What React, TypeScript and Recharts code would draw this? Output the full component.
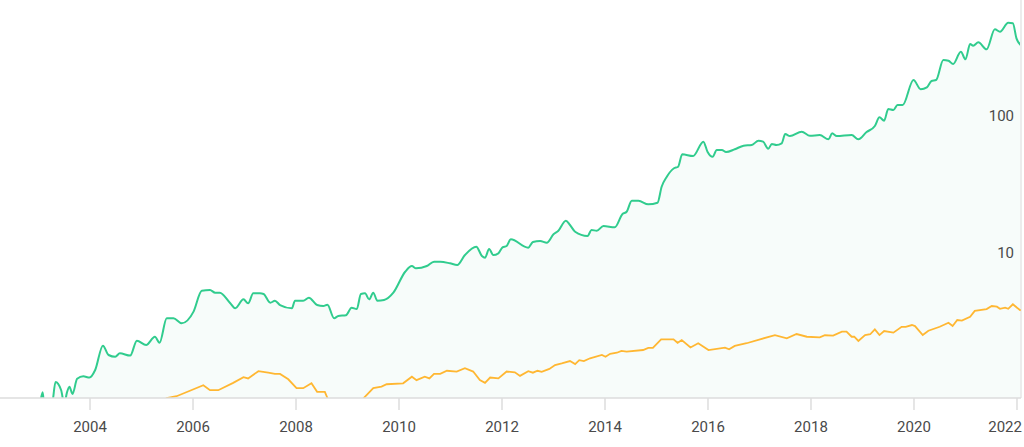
import { ComposedChart, Area, Line, XAxis, YAxis, ReferenceLine } from 'recharts'

// green series (upper) — decimal year / value
const greenYears = [
  2003.03, 2003.08, 2003.11, 2003.26, 2003.33, 2003.44, 2003.5, 2003.55, 2003.6, 2003.66,
  2003.75, 2003.87, 2003.99, 2004.1, 2004.25, 2004.36, 2004.49, 2004.58, 2004.78, 2004.91,
  2005.09, 2005.26, 2005.35, 2005.49, 2005.62, 2005.78, 2006.01, 2006.17, 2006.33, 2006.43,
  2006.52, 2006.72, 2006.82, 2006.98, 2007.07, 2007.17, 2007.3, 2007.37, 2007.5, 2007.59,
  2007.69, 2007.92, 2007.98, 2008.14, 2008.25, 2008.41, 2008.53, 2008.61, 2008.74, 2008.82,
  2008.97, 2009.08, 2009.18, 2009.26, 2009.34, 2009.42, 2009.5, 2009.58, 2009.71, 2009.89,
  2010.12, 2010.25, 2010.33, 2010.54, 2010.68, 2010.8, 2010.99, 2011.13, 2011.28, 2011.5,
  2011.61, 2011.67, 2011.75, 2011.83, 2011.93, 2012.01, 2012.09, 2012.17, 2012.51, 2012.6,
  2012.74, 2012.87, 2013.0, 2013.09, 2013.24, 2013.32, 2013.42, 2013.66, 2013.74, 2013.84,
  2013.97, 2014.19, 2014.34, 2014.42, 2014.52, 2014.65, 2014.84, 2015.02, 2015.1, 2015.2,
  2015.34, 2015.42, 2015.5, 2015.71, 2015.91, 2015.99, 2016.09, 2016.17, 2016.27, 2016.35,
  2016.52, 2016.69, 2016.85, 2016.98, 2017.07, 2017.17, 2017.24, 2017.33, 2017.43, 2017.5,
  2017.59, 2017.82, 2017.98, 2018.17, 2018.34, 2018.41, 2018.5, 2018.79, 2018.92, 2019.08,
  2019.24, 2019.33, 2019.42, 2019.5, 2019.6, 2019.68, 2019.78, 2019.99, 2020.13, 2020.25,
  2020.34, 2020.43, 2020.57, 2020.67, 2020.76, 2020.91, 2021.0, 2021.09, 2021.15, 2021.25,
  2021.41, 2021.57, 2021.67, 2021.83, 2021.92, 2021.99, 2022.07,
]
const greenValues = [
  0.9, 1.1, 0.9, 0.9, 1.31, 1.14, 0.9, 1.09, 1.21, 1.07,
  1.38, 1.44, 1.41, 1.6, 2.41, 2.06, 2.0, 2.12, 2.04, 2.62,
  2.44, 2.8, 2.53, 3.82, 3.82, 3.51, 4.27, 6.07, 6.14, 5.87,
  5.87, 4.94, 4.52, 5.25, 4.91, 5.81, 5.81, 5.74, 4.96, 5.13,
  4.77, 4.52, 5.13, 5.13, 5.4, 4.77, 4.69, 4.8, 3.82, 3.97,
  4.02, 4.56, 4.46, 5.74, 5.81, 5.25, 5.87, 5.13, 5.19, 5.87,
  8.35, 9.19, 8.85, 9.19, 9.88, 9.88, 9.62, 9.35, 11.06, 12.72,
  10.88, 10.57, 12.24, 11.06, 11.38, 12.59, 12.87, 14.4, 12.51, 13.76,
  14.0, 13.6, 15.66, 16.56, 19.69, 18.32, 16.36, 15.22, 16.84, 16.64,
  18.01, 17.62, 22.03, 22.9, 27.55, 27.55, 25.94, 26.64, 34.86, 41.24,
  47.51, 48.8, 60.1, 58.4, 74.3, 62.8, 57.7, 64.6, 64.6, 62.5,
  65.4, 69.4, 70.3, 75.5, 74.3, 66.0, 71.4, 70.3, 72.3, 84.5,
  81.7, 87.9, 82.1, 83.1, 77.3, 85.5, 81.7, 83.1, 77.3, 87.4,
  96.7, 111.9, 105.7, 128.7, 126.6, 137.6, 137.6, 209.5, 179.2, 185.3,
  206.0, 209.5, 293.3, 289.7, 274.2, 337.1, 296.8, 383.7, 372.9, 394.8,
  351.0, 491.2, 471.8, 548.8, 543.3, 422.3, 377.3,
]

// orange series (lower)
const orangeYears = [
  2005.42, 2005.49, 2005.68, 2005.94, 2006.2, 2006.33, 2006.49, 2006.78, 2006.98, 2007.07,
  2007.27, 2007.46, 2007.59, 2007.69, 2007.85, 2008.01, 2008.14, 2008.3, 2008.41, 2008.56,
  2008.66, 2009.2, 2009.37, 2009.5, 2009.66, 2009.76, 2010.08, 2010.25, 2010.34, 2010.5,
  2010.59, 2010.68, 2010.8, 2010.93, 2011.12, 2011.28, 2011.44, 2011.57, 2011.67, 2011.77,
  2011.93, 2012.09, 2012.25, 2012.35, 2012.51, 2012.6, 2012.69, 2012.77, 2012.92, 2013.03,
  2013.16, 2013.32, 2013.42, 2013.5, 2013.59, 2013.71, 2013.94, 2014.01, 2014.1, 2014.23,
  2014.32, 2014.42, 2014.74, 2014.84, 2014.93, 2015.09, 2015.33, 2015.41, 2015.49, 2015.66,
  2015.81, 2016.01, 2016.33, 2016.41, 2016.52, 2016.75, 2017.01, 2017.3, 2017.53, 2017.72,
  2017.92, 2018.17, 2018.27, 2018.43, 2018.6, 2018.69, 2018.79, 2018.84, 2018.92, 2019.05,
  2019.15, 2019.24, 2019.33, 2019.42, 2019.6, 2019.76, 2019.84, 2019.96, 2020.02, 2020.17,
  2020.28, 2020.5, 2020.67, 2020.75, 2020.84, 2020.93, 2021.09, 2021.18, 2021.41, 2021.51,
  2021.61, 2021.67, 2021.77, 2021.83, 2021.92, 2022.07,
]
const orangeValues = [
  0.95, 1.0, 1.03, 1.13, 1.24, 1.14, 1.14, 1.29, 1.42, 1.39,
  1.57, 1.53, 1.5, 1.5, 1.37, 1.18, 1.18, 1.28, 1.11, 1.11,
  0.9, 0.9, 1.05, 1.18, 1.21, 1.26, 1.28, 1.43, 1.35, 1.43,
  1.39, 1.5, 1.5, 1.58, 1.56, 1.65, 1.56, 1.35, 1.29, 1.41,
  1.39, 1.56, 1.54, 1.45, 1.57, 1.53, 1.58, 1.55, 1.63, 1.74,
  1.79, 1.86, 1.77, 1.89, 1.86, 1.95, 2.06, 2.0, 2.1, 2.14,
  2.21, 2.18, 2.24, 2.32, 2.32, 2.68, 2.68, 2.53, 2.65, 2.34,
  2.51, 2.24, 2.33, 2.27, 2.4, 2.51, 2.68, 2.88, 2.73, 2.93,
  2.8, 2.77, 2.87, 2.85, 3.05, 3.05, 2.8, 2.8, 2.61, 2.88,
  2.92, 3.17, 2.88, 3.08, 3.0, 3.31, 3.31, 3.41, 3.35, 2.88,
  3.1, 3.31, 3.54, 3.35, 3.71, 3.67, 3.92, 4.32, 4.46, 4.69,
  4.64, 4.48, 4.56, 4.48, 4.83, 4.34,
]

const xTicks = [2004, 2006, 2008, 2010, 2012, 2014, 2016, 2018, 2020, 2022]
const yTicks = [10, 100]

const X_MIN = 2002.252
const X_MAX = 2022.078

type Row = { year: number; green?: number; orange?: number }

function buildRows(): Row[] {
  const map = new Map<number, Row>()
  greenYears.forEach((y, i) => {
    const r = map.get(y) ?? { year: y }
    r.green = greenValues[i]
    map.set(y, r)
  })
  orangeYears.forEach((y, i) => {
    const r = map.get(y) ?? { year: y }
    r.orange = orangeValues[i]
    map.set(y, r)
  })
  return Array.from(map.values()).sort((a, b) => a.year - b.year)
}

const rows = buildRows()

const labelStyle = { fontFamily: 'Roboto, sans-serif', fontSize: 15, fill: '#4a4a4a' }

function XTick(props: any) {
  const { x, y, payload } = props
  // last label is pulled inside the chart edge
  const last = payload.value === 2022
  return (
    <text x={last ? x + 5 : x} y={y} dy={22} textAnchor={last ? 'end' : 'middle'} style={labelStyle}>
      {payload.value}
    </text>
  )
}

function YTick(props: any) {
  const { y, payload } = props
  // labels sit just above their value, right-aligned inside the plot
  return (
    <text x={1014} y={y - 8} dy="0.355em" textAnchor="end" style={labelStyle}>
      {payload.value}
    </text>
  )
}

export default function App() {
  return (
    <div style={{ position: 'absolute', left: 0, top: 0, width: 1024, height: 447, background: '#fff' }}>
      <ComposedChart width={1024} height={447} data={rows} margin={{ top: 0, right: 3, bottom: 0, left: 0 }}>
        <XAxis
          dataKey="year"
          type="number"
          domain={[X_MIN, X_MAX]}
          allowDataOverflow
          ticks={xTicks}
          interval={0}
          height={49}
          axisLine={{ stroke: '#dddddd', strokeWidth: 1.5 }}
          tickLine={{ stroke: '#dddddd', strokeWidth: 1.5 }}
          tickSize={12}
          tickMargin={0}
          tick={<XTick />}
        />
        <YAxis
          type="number"
          scale="log"
          domain={[1, 804]}
          allowDataOverflow
          ticks={yTicks}
          interval={0}
          orientation="right"
          mirror
          width={40}
          axisLine={false}
          tickLine={false}
          tick={<YTick />}
        />
        <ReferenceLine x={X_MAX} stroke="#ececec" strokeWidth={2} ifOverflow="visible" />
        <Area
          dataKey="green"
          type="monotone"
          stroke="#31cc8e"
          strokeWidth={2}
          fill="#f7fcfa"
          fillOpacity={1}
          connectNulls
          dot={false}
          activeDot={false}
          isAnimationActive={false}
        />
        <Line
          dataKey="orange"
          type="linear"
          stroke="#ffb732"
          strokeWidth={1.8}
          connectNulls
          dot={false}
          activeDot={false}
          isAnimationActive={false}
        />
      </ComposedChart>
    </div>
  )
}
